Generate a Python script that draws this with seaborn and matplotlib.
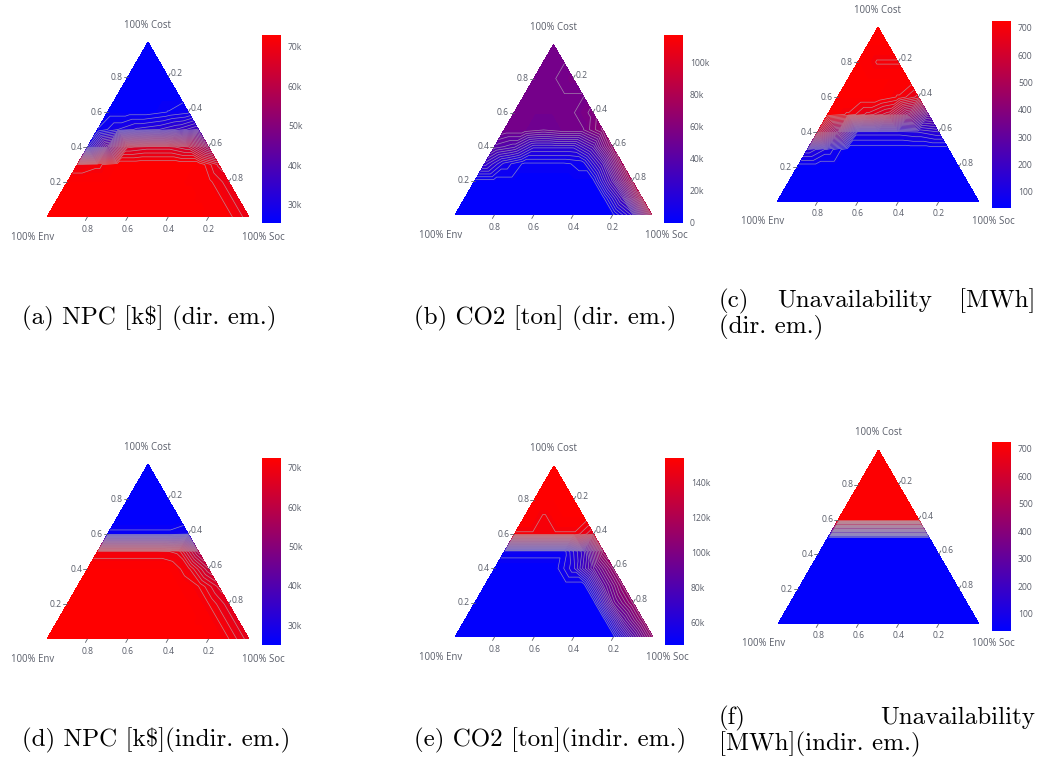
import numpy as np
import matplotlib
matplotlib.use("Agg")
import matplotlib.pyplot as plt
import matplotlib.tri as mtri
from matplotlib.colors import Normalize
from matplotlib.cm import ScalarMappable
import seaborn as sns

# ---------------------------------------------------------------------------
# Values sampled on a ternary lattice (step 0.1).
# Row i holds points with Cost = i/10; entry j has Soc = j/10, Env = 1-Cost-Soc.
# ---------------------------------------------------------------------------
npc_dir = [  # k$
    [73, 73, 73, 73, 73, 73, 73, 73, 73, 72, 69],
    [73, 73, 73, 73, 73, 73, 73, 73, 72, 69],
    [73, 73, 73, 73, 73, 73, 73, 72, 69],
    [70, 71, 73, 73, 73, 73, 73, 68],
    [30, 45, 65, 66, 66, 64, 55],
    [27, 30, 32, 33, 35, 38],
    [26, 26, 26, 27, 28],
    [26, 26, 26, 26],
    [26, 26, 26],
    [26, 26],
    [26],
]

co2_dir = [  # kton
    [2, 2, 2, 2, 2, 2, 2, 2, 2, 20, 85],
    [2, 2, 2, 2, 2, 2, 2, 2, 30, 85],
    [2, 2, 2, 2, 2, 2, 2, 35, 80],
    [25, 10, 3, 3, 3, 5, 30, 75],
    [40, 35, 20, 20, 20, 35, 70],
    [52.5, 52.5, 49.5, 52.5, 52.5, 65],
    [52.5, 52.5, 52.5, 52.5, 58],
    [52.5, 52.5, 52.5, 52.5],
    [52.5, 52.5, 55.5],
    [52.5, 52.5],
    [52.5],
]

unav_dir = [  # MWh
    [45, 45, 45, 45, 45, 45, 45, 45, 45, 45, 45],
    [45, 45, 45, 45, 45, 45, 45, 45, 45, 45],
    [45, 45, 45, 45, 45, 45, 45, 45, 45],
    [150, 100, 45, 45, 45, 45, 45, 45],
    [600, 400, 120, 120, 120, 130, 150],
    [720, 700, 650, 600, 450, 300],
    [725, 725, 725, 700, 650],
    [725, 725, 725, 725],
    [725, 700, 700],
    [725, 725],
    [725],
]

npc_indir = [  # k$
    [72.5, 72.5, 72.5, 72.5, 72.5, 72.5, 72.5, 72.5, 72.5, 71, 67],
    [72.5, 72.5, 72.5, 72.5, 72.5, 72.5, 72.5, 72.5, 71, 67],
    [72.5, 72.5, 72.5, 72.5, 72.5, 72.5, 72.5, 71, 67],
    [72.5, 72.5, 72.5, 72.5, 72.5, 72.5, 71, 66],
    [72.5, 72.5, 72.5, 72.5, 72.5, 70, 62],
    [70, 70, 70, 70, 69, 58],
    [27, 27, 27, 27, 28],
    [25, 25, 25, 25],
    [25, 25, 25],
    [25, 25],
    [25],
]

co2_indir = [  # kton
    [48, 48, 48, 48, 48, 48, 48, 48, 48, 80, 110],
    [48, 48, 48, 48, 48, 48, 48, 48, 85, 110],
    [48, 48, 48, 48, 48, 48, 48, 90, 110],
    [48, 48, 48, 48, 48, 48, 85, 110],
    [48, 48, 48, 48, 60, 85, 110],
    [52, 52, 52, 52, 70, 115],
    [150, 150, 150, 150, 140],
    [154, 150, 154, 154],
    [154, 154, 154],
    [154, 154],
    [154],
]

unav_indir = [  # MWh
    [45, 45, 45, 45, 45, 45, 45, 45, 45, 45, 45],
    [45, 45, 45, 45, 45, 45, 45, 45, 45, 45],
    [45, 45, 45, 45, 45, 45, 45, 45, 45],
    [45, 45, 45, 45, 45, 45, 45, 45],
    [45, 45, 45, 45, 45, 45, 45],
    [45, 45, 45, 45, 45, 45],
    [720, 720, 720, 720, 720],
    [720, 720, 720, 720],
    [720, 720, 720],
    [720, 720],
    [720],
]

# colour-bar ranges and ticks
ranges = [(25.4, 73), (0, 117), (41, 725), (25, 72.5), (47, 154), (38, 725)]
cbar_ticks = [
    [30, 40, 50, 60, 70],
    [0, 20, 40, 60, 80, 100],
    [100, 200, 300, 400, 500, 600, 700],
    [30, 40, 50, 60, 70],
    [60, 80, 100, 120, 140],
    [100, 200, 300, 400, 500, 600, 700],
]
cbar_labels = [
    ["30k", "40k", "50k", "60k", "70k"],
    ["0", "20k", "40k", "60k", "80k", "100k"],
    ["100", "200", "300", "400", "500", "600", "700"],
    ["30k", "40k", "50k", "60k", "70k"],
    ["60k", "80k", "100k", "120k", "140k"],
    ["100", "200", "300", "400", "500", "600", "700"],
]

pole_labels = ["100% Cost", "100% Env", "100% Soc"]
axis_ticks = [0.2, 0.4, 0.6, 0.8]

captions = [
    ["(a) NPC [k$] (dir. em.)"],
    ["(b) CO2 [ton] (dir. em.)"],
    [["(c)", "Unavailability", "[MWh]"], "(dir. em.)"],
    ["(d) NPC [k$](indir. em.)"],
    ["(e) CO2 [ton](indir. em.)"],
    [["(f)", "Unavailability"], "[MWh](indir. em.)"],
]

fields = [npc_dir, co2_dir, unav_dir, npc_indir, co2_indir, unav_indir]

# ---------------------------------------------------------------------------
# layout (pixels): base-left x, base y, base width, colour bar x0, x1, top, bottom
# ---------------------------------------------------------------------------
W, H = 1039, 761
layout = [
    (47, 217, 202, 262, 281, 35, 223),
    (455, 215, 197, 664, 683, 35, 223),
    (777, 202, 202, 992, 1011, 21, 208),
    (47, 639, 202, 262, 281, 458, 645),
    (455, 637, 198, 665, 684, 458, 645),
    (778, 624, 201, 992, 1011, 442, 631),
]
caption_pos = [  # x left, y centre (first line)
    (22, 318), (414, 318), (719, 301), (22, 740), (414, 740), (719, 718)
]

sns.set_theme(style="white")
plt.rcParams["font.family"] = ["Open Sans", "DejaVu Sans"]

SQ3 = np.sqrt(3.0) / 2.0
CMAP = sns.blend_palette(["#0000ff", "#ff0000"], as_cmap=True)
TXT = "#5a5e6a"
LINE = "#b2b0b8"

fig = plt.figure(figsize=(W / 100, H / 100), dpi=100)
fig.patch.set_facecolor("white")


def lattice(rows):
    n = len(rows) - 1
    xs, ys, zs, index = [], [], [], {}
    for i, row in enumerate(rows):
        c = i / n
        for j, v in enumerate(row):
            s = j / n
            index[(i, j)] = len(xs)
            xs.append(s + c / 2.0)
            ys.append(c * SQ3)
            zs.append(v)
    tris = []
    for i in range(n):
        for j in range(n - i):
            tris.append([index[(i, j)], index[(i, j + 1)], index[(i + 1, j)]])
            if j + 1 <= n - i - 1:
                tris.append([index[(i, j + 1)], index[(i + 1, j + 1)], index[(i + 1, j)]])
    tri = mtri.Triangulation(np.array(xs), np.array(ys), np.array(tris))
    return tri, np.array(zs, dtype=float)


def px(fx, fy):
    return fx / W, 1 - fy / H


for k, rows in enumerate(fields):
    bx, by, bw, cx0, cx1, ct, cb = layout[k]
    lo, hi = ranges[k]
    th = bw * SQ3
    l, b = px(bx, by)
    ax = fig.add_axes([l, b, bw / W, th / H])
    ax.set_xlim(0, 1)
    ax.set_ylim(0, SQ3)
    ax.axis("off")

    tri, z = lattice(rows)
    refiner = mtri.UniformTriRefiner(tri)
    tri_f, z_f = refiner.refine_field(
        z, triinterpolator=mtri.LinearTriInterpolator(tri, z), subdiv=2)
    norm = Normalize(lo, hi)
    ax.tricontourf(tri_f, z_f, levels=np.linspace(lo, hi, 48), cmap=CMAP,
                   norm=norm, extend="both")
    ax.tricontour(tri_f, z_f, levels=np.linspace(lo, hi, 32)[1:-1],
                  colors=LINE, linewidths=0.5, alpha=0.75)

    u = 1.0 / bw  # one pixel in data units
    tk = dict(color=TXT, lw=0.6, clip_on=False)
    fs = 6.2
    for t in axis_ticks:
        lab = f"{t:.1f}"
        # left edge: Cost
        x, y = t / 2.0, t * SQ3
        ax.plot([x - 4 * u, x], [y, y], **tk)
        ax.text(x - 5 * u, y, lab, ha="right", va="center", fontsize=fs, color=TXT)
        # right edge: Soc
        x, y = t + (1 - t) / 2.0, (1 - t) * SQ3
        dx, dy = 2 * u, 3.5 * u
        ax.plot([x, x + dx], [y, y + dy], **tk)
        ax.text(x + dx + 0.5 * u, y + dy, lab, ha="left", va="center", fontsize=fs, color=TXT)
        # base: Env
        x = 1 - t
        ax.plot([x, x - 2 * u], [0, -3.5 * u], **tk)
        ax.text(x, -12 * u, lab, ha="center", va="center", fontsize=fs, color=TXT)

    ax.text(0.5, SQ3 + 17 * u, pole_labels[0], ha="center", va="center",
            fontsize=6.9, color=TXT)
    ax.text(-14 * u, -20 * u, pole_labels[1], ha="center", va="center",
            fontsize=6.9, color=TXT)
    ax.text(1 + 14 * u, -20 * u, pole_labels[2], ha="center", va="center",
            fontsize=6.9, color=TXT)

    # colour bar
    l, b = px(cx0, cb)
    cax = fig.add_axes([l, b, (cx1 - cx0) / W, (cb - ct) / H])
    sm = ScalarMappable(norm=norm, cmap=CMAP)
    cbar = fig.colorbar(sm, cax=cax)
    cbar.outline.set_visible(False)
    cbar.set_ticks(cbar_ticks[k])
    cbar.set_ticklabels(cbar_labels[k])
    cax.tick_params(length=0, labelsize=6.2, colors=TXT, pad=5)

    # caption
    cap = captions[k]
    x0, y0 = caption_pos[k]
    cfont = dict(family="cmr10", fontsize=18, color="black", va="center")
    if len(cap) == 1:
        fig.text(*px(x0, y0), cap[0], ha="left", **cfont)
    else:
        words, second = cap
        x_right = 1035
        if len(words) == 3:
            fig.text(*px(x0, y0), words[0], ha="left", **cfont)
            fig.text(*px(855, y0), words[1], ha="center", **cfont)
            fig.text(*px(x_right, y0), words[2], ha="right", **cfont)
        else:
            fig.text(*px(x0, y0), words[0], ha="left", **cfont)
            fig.text(*px(x_right, y0), words[1], ha="right", **cfont)
        fig.text(*px(x0, y0 + 26), second, ha="left", **cfont)

fig.savefig("out.png", dpi=100, facecolor="white")
